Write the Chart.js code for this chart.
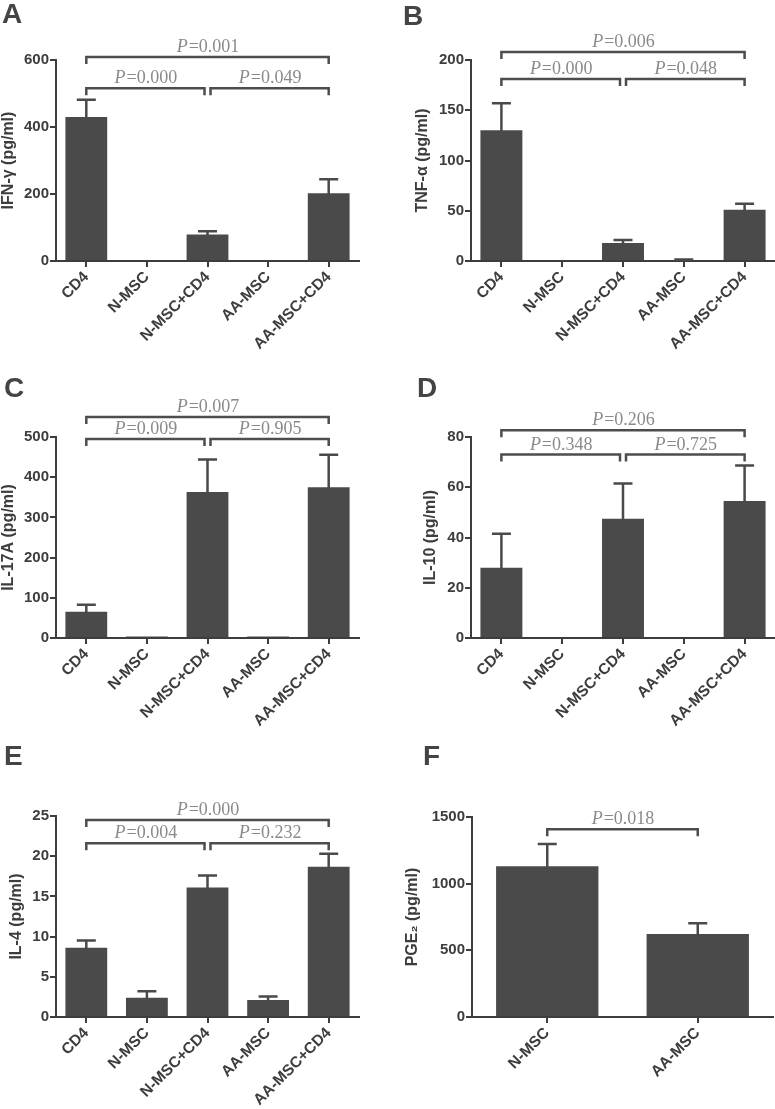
<!DOCTYPE html>
<html>
<head>
<meta charset="utf-8">
<script src="https://cdn.jsdelivr.net/npm/chart.js@4.4.0/dist/chart.umd.min.js"></script>
<style>
  html, body { margin: 0; padding: 0; background: #ffffff; }
  body { width: 775px; height: 1109px; position: relative; overflow: hidden; }
  canvas { position: absolute; }
</style>
</head>
<body>
<canvas id="cA"></canvas>
<canvas id="cB"></canvas>
<canvas id="cC"></canvas>
<canvas id="cD"></canvas>
<canvas id="cE"></canvas>
<canvas id="cF"></canvas>
<script>
// ---------------- DATA ----------------
const groups5 = ['CD4', 'N-MSC', 'N-MSC+CD4', 'AA-MSC', 'AA-MSC+CD4'];
const groupsMSC = ['N-MSC', 'AA-MSC'];

const ifnMean = [430, 0, 79, 0, 202];
const ifnSem  = [51, 0, 10, 0, 42];
const ifnTicks = [0, 200, 400, 600];

const tnfMean = [130, 0, 18, 1, 51];
const tnfSem  = [27, 0, 3, 0.5, 6];
const tnfTicks = [0, 50, 100, 150, 200];

const il17Mean = [65, 4, 363, 4, 375];
const il17Sem  = [18, 0, 81, 0, 81];
const il17Ticks = [0, 100, 200, 300, 400, 500];

const il10Mean = [28, 0, 47.5, 0, 54.5];
const il10Sem  = [13.5, 0, 14, 0, 14.2];
const il10Ticks = [0, 20, 40, 60, 80];

const il4Mean = [8.6, 2.4, 16.1, 2.1, 18.7];
const il4Sem  = [0.9, 0.8, 1.5, 0.45, 1.6];
const il4Ticks = [0, 5, 10, 15, 20, 25];

const pgeMean = [1130, 623];
const pgeSem  = [168, 80];
const pgeTicks = [0, 500, 1000, 1500];

// significance brackets: category indices, bracket height (data units), P value
const bracketsA = [{from: 0, to: 4, level: 609, p: '0.001'}, {from: 0, to: 2, level: 516, p: '0.000'}, {from: 2, to: 4, level: 516, p: '0.049'}];
const bracketsB = [{from: 0, to: 4, level: 208, p: '0.006'}, {from: 0, to: 2, level: 181, p: '0.000'}, {from: 2, to: 4, level: 181, p: '0.048'}];
const bracketsC = [{from: 0, to: 4, level: 550, p: '0.007'}, {from: 0, to: 2, level: 495, p: '0.009'}, {from: 2, to: 4, level: 495, p: '0.905'}];
const bracketsD = [{from: 0, to: 4, level: 82.7, p: '0.206'}, {from: 0, to: 2, level: 73, p: '0.348'}, {from: 2, to: 4, level: 73, p: '0.725'}];
const bracketsE = [{from: 0, to: 4, level: 24.5, p: '0.000'}, {from: 0, to: 2, level: 21.6, p: '0.004'}, {from: 2, to: 4, level: 21.6, p: '0.232'}];
const bracketsF = [{from: 0, to: 1, level: 1409, p: '0.018'}];

// ---------------- STYLE / LAYOUT ----------------
const INK = '#3d3d3d';
const BAR = '#4a4a4a';
const PGRAY = '#8a8a8a';
const SANS = '"Liberation Sans", Arial, Helvetica, sans-serif';
const SERIF = '"Liberation Serif", "Times New Roman", serif';

const errorBarPlugin = {
  id: 'errorBars',
  afterDatasetsDraw(chart, args, opts) {
    const ctx = chart.ctx;
    const y = chart.scales.y;
    const meta = chart.getDatasetMeta(0);
    const means = chart.data.datasets[0].data;
    const sems = opts.sem;
    ctx.save();
    ctx.strokeStyle = BAR;
    ctx.lineWidth = 2.5;
    meta.data.forEach((bar, i) => {
      if (!sems[i]) return;
      const top = y.getPixelForValue(means[i] + sems[i]);
      const base = y.getPixelForValue(means[i]);
      ctx.beginPath();
      ctx.moveTo(bar.x, base + 1);
      ctx.lineTo(bar.x, top);
      ctx.moveTo(bar.x - opts.cap, top);
      ctx.lineTo(bar.x + opts.cap, top);
      ctx.stroke();
    });
    ctx.restore();
  }
};

const bracketPlugin = {
  id: 'brackets',
  afterDraw(chart, args, opts) {
    const ctx = chart.ctx;
    const xs = chart.scales.x, ys = chart.scales.y;
    const list = opts.list;
    ctx.save();
    list.forEach((b) => {
      let x1 = xs.getPixelForValue(b.from);
      let x2 = xs.getPixelForValue(b.to);
      const sharedL = list.some(o => o !== b && o.level === b.level && o.to === b.from);
      const sharedR = list.some(o => o !== b && o.level === b.level && o.from === b.to);
      if (sharedL) x1 += 3;
      if (sharedR) x2 -= 3;
      const yy = ys.getPixelForValue(b.level);
      ctx.strokeStyle = '#4d4d4d';
      ctx.lineWidth = 2.5;
      ctx.lineCap = 'butt';
      ctx.beginPath();
      ctx.moveTo(x1, yy + 7);
      ctx.lineTo(x1, yy);
      ctx.lineTo(x2, yy);
      ctx.lineTo(x2, yy + 7);
      ctx.stroke();
      // label "P=0.xxx" with italic P
      const fItal = 'italic 18px ' + SERIF;
      const fReg = '18px ' + SERIF;
      ctx.font = fItal;
      const wP = ctx.measureText('P').width;
      ctx.font = fReg;
      const rest = '=' + b.p;
      const wR = ctx.measureText(rest).width;
      const cx = (x1 + x2) / 2;
      const start = cx - (wP + wR) / 2;
      ctx.fillStyle = PGRAY;
      ctx.textBaseline = 'alphabetic';
      ctx.textAlign = 'left';
      ctx.font = fItal;
      ctx.fillText('P', start, yy - 5);
      ctx.font = fReg;
      ctx.fillText(rest, start + wP + 1, yy - 5);
    });
    // panel letter
    ctx.fillStyle = '#444444';
    ctx.font = 'bold 28px ' + SANS;
    ctx.textAlign = 'left';
    ctx.textBaseline = 'alphabetic';
    ctx.fillText(opts.letter, opts.letterX, opts.letterY);
    ctx.restore();
  }
};

function makePanel(id, L, labels, means, sems, ticks, brackets, yTitle) {
  const cv = document.getElementById(id);
  cv.width = L.w; cv.height = L.h;
  cv.style.left = L.left + 'px';
  cv.style.top = L.top + 'px';
  const step = ticks[1] - ticks[0];
  return new Chart(cv.getContext('2d'), {
    type: 'bar',
    data: {
      labels: labels,
      datasets: [{
        data: means,
        backgroundColor: BAR,
        borderWidth: 0,
        categoryPercentage: 1.0,
        barPercentage: L.barPct
      }]
    },
    options: {
      responsive: false,
      animation: false,
      devicePixelRatio: 1,
      layout: { padding: { top: L.padTop, right: L.padRight, left: 0, bottom: 0 } },
      plugins: {
        legend: { display: false },
        tooltip: { enabled: false },
        title: { display: false },
        errorBars: { sem: sems, cap: 9.5 },
        brackets: { list: brackets, letter: L.letter, letterX: L.letterX, letterY: L.letterY }
      },
      scales: {
        x: {
          offset: true,
          afterFit: (s) => { s.height = L.xHeight; },
          grid: { display: true, offset: false, drawOnChartArea: false, drawTicks: true, tickLength: 6, color: INK, lineWidth: 2 },
          border: { display: true, color: INK, width: 2 },
          ticks: {
            color: INK,
            font: { family: SANS, size: 15.5, weight: 'bold' },
            minRotation: 45, maxRotation: 45,
            padding: 1,
            autoSkip: false
          }
        },
        y: {
          min: ticks[0],
          max: ticks[ticks.length - 1],
          afterFit: (s) => { s.width = L.yWidth; },
          afterBuildTicks: (s) => { s.ticks = ticks.map(v => ({ value: v })); },
          grid: { display: true, drawOnChartArea: false, drawTicks: true, tickLength: 6, color: INK, lineWidth: 2 },
          border: { display: true, color: INK, width: 2 },
          ticks: {
            stepSize: step,
            color: INK,
            font: { family: SANS, size: 15, weight: 'bold' },
            padding: 1,
            callback: (v) => String(v)
          },
          title: {
            display: true,
            text: yTitle,
            color: INK,
            font: { family: SANS, size: 16, weight: 'bold', lineHeight: 1.125 },
            padding: { top: L.titlePad, bottom: 0 }
          }
        }
      }
    },
    plugins: [errorBarPlugin, bracketPlugin]
  });
}

const layoutA = { left: 0,   top: 0,   w: 385, h: 370, yWidth: 56, padTop: 60, padRight: 26, xHeight: 109, titlePad: 0,  barPct: 0.69, letter: 'A', letterX: 2,  letterY: 23 };
const layoutB = { left: 385, top: 0,   w: 390, h: 370, yWidth: 86, padTop: 60, padRight: 0,  xHeight: 109, titlePad: 29, barPct: 0.69, letter: 'B', letterX: 18, letterY: 25 };
const layoutC = { left: 0,   top: 360, w: 385, h: 375, yWidth: 56, padTop: 77, padRight: 26, xHeight: 97,  titlePad: 0,  barPct: 0.69, letter: 'C', letterX: 4,  letterY: 37 };
const layoutD = { left: 385, top: 360, w: 390, h: 375, yWidth: 86, padTop: 77, padRight: 0,  xHeight: 97,  titlePad: 37, barPct: 0.69, letter: 'D', letterX: 32, letterY: 37 };
const layoutE = { left: 0,   top: 730, w: 385, h: 379, yWidth: 56, padTop: 86, padRight: 26, xHeight: 92,  titlePad: 8,  barPct: 0.69, letter: 'E', letterX: 4,  letterY: 35 };
const layoutF = { left: 385, top: 730, w: 390, h: 379, yWidth: 87, padTop: 87, padRight: 2,  xHeight: 92,  titlePad: 19, barPct: 0.68, letter: 'F', letterX: 38, letterY: 35 };

makePanel('cA', layoutA, groups5, ifnMean, ifnSem, ifnTicks, bracketsA, 'IFN-γ (pg/ml)');
makePanel('cB', layoutB, groups5, tnfMean, tnfSem, tnfTicks, bracketsB, 'TNF-α (pg/ml)');
makePanel('cC', layoutC, groups5, il17Mean, il17Sem, il17Ticks, bracketsC, 'IL-17A (pg/ml)');
makePanel('cD', layoutD, groups5, il10Mean, il10Sem, il10Ticks, bracketsD, 'IL-10 (pg/ml)');
makePanel('cE', layoutE, groups5, il4Mean, il4Sem, il4Ticks, bracketsE, 'IL-4 (pg/ml)');
makePanel('cF', layoutF, groupsMSC, pgeMean, pgeSem, pgeTicks, bracketsF, 'PGE₂ (pg/ml)');
</script>
</body>
</html>
